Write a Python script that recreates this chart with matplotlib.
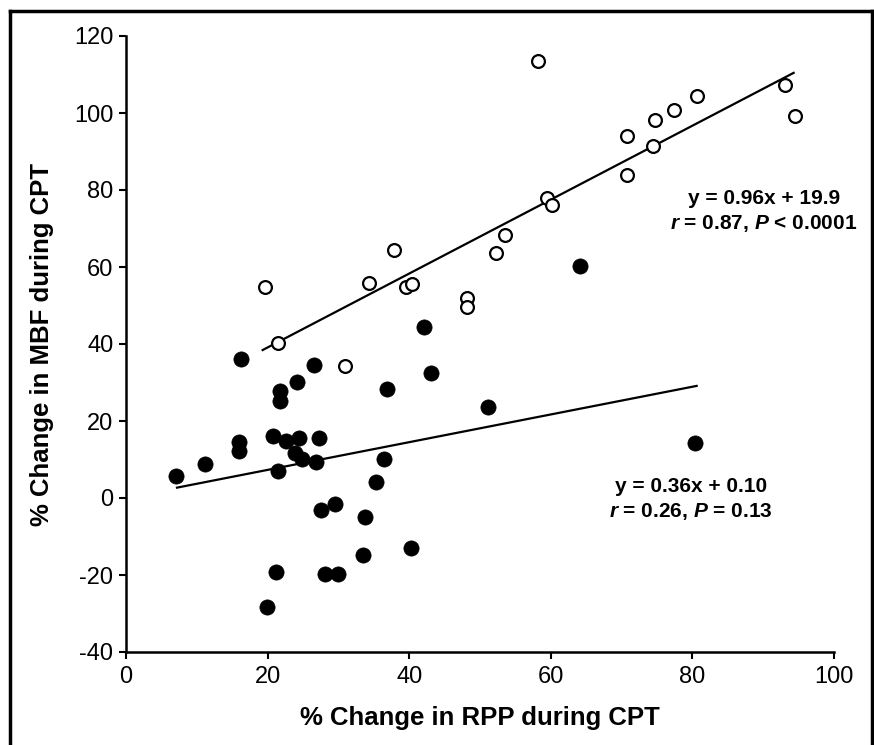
import matplotlib
matplotlib.use("Agg")
import matplotlib.pyplot as plt
from matplotlib.lines import Line2D

plt.rcParams['font.family'] = ['Liberation Sans', 'DejaVu Sans']
plt.rcParams['mathtext.fontset'] = 'custom'
plt.rcParams['mathtext.it'] = 'Liberation Sans:italic:bold'
plt.rcParams['mathtext.rm'] = 'Liberation Sans:bold'
plt.rcParams['mathtext.bf'] = 'Liberation Sans:bold'
plt.rcParams['axes.unicode_minus'] = False

# Open circles (upper group)
open_x = [19.7, 21.5, 30.9, 34.3, 37.9, 39.5, 40.4, 48.1, 48.2, 52.2, 53.5,
          58.2, 59.4, 60.1, 70.7, 70.7, 74.4, 74.7, 77.4, 80.7, 93.1, 94.5]
open_y = [54.8, 40.2, 34.3, 55.9, 64.3, 54.7, 55.7, 52.0, 49.6, 63.6, 68.4,
          113.4, 77.8, 76.1, 94.0, 83.8, 91.5, 98.2, 100.7, 104.4, 107.3, 99.1]

# Filled circles (lower group)
filled_x = [7.0, 11.2, 16.0, 16.0, 16.2, 19.9, 20.8, 21.2, 21.4, 21.8, 21.8,
            22.6, 23.8, 24.2, 24.4, 24.9, 26.5, 26.9, 27.2, 27.5, 28.1, 29.5,
            30.0, 33.5, 33.8, 35.3, 36.4, 36.9, 40.2, 42.1, 43.1, 51.2, 64.1, 80.3]
filled_y = [5.7, 8.9, 14.5, 12.2, 36.1, -28.2, 16.2, -19.3, 7.1, 27.7, 25.1,
            14.7, 11.8, 30.1, 15.7, 10.1, 34.6, 9.3, 15.7, -3.2, -19.8, -1.5,
            -19.8, -14.8, -4.9, 4.1, 10.1, 28.3, -13.0, 44.4, 32.4, 23.6, 60.3, 14.2]

# Regression fits (slope, intercept, x-range)
open_fit = (0.96, 19.9)
open_fit_range = [19.3, 94.3]
filled_fit = (0.36, 0.10)
filled_fit_range = [7.2, 80.6]

open_label = ["y = 0.96x + 19.9", r"$r$ = 0.87, $P$ < 0.0001"]
filled_label = ["y = 0.36x + 0.10", r"$r$ = 0.26, $P$ = 0.13"]

xticks = [0, 20, 40, 60, 80, 100]
yticks = [-40, -20, 0, 20, 40, 60, 80, 100, 120]

fig = plt.figure(figsize=(8.74, 7.45), dpi=100)
ax = fig.add_axes([126/874, 1 - 652/745, (834-126)/874, (652-36)/745])

ax.scatter(open_x, open_y, s=85, facecolors='white', edgecolors='black',
           linewidths=1.6, zorder=3)
ax.scatter(filled_x, filled_y, s=120, facecolors='black', edgecolors='black',
           linewidths=0.5, zorder=3)

for (m, b), rng in [(open_fit, open_fit_range), (filled_fit, filled_fit_range)]:
    xs = rng
    ys = [m * v + b for v in xs]
    ax.plot(xs, ys, color='black', lw=1.6, zorder=2)

ax.set_xlim(0, 100)
ax.set_ylim(-40, 120)
ax.set_xticks(xticks)
ax.set_yticks(yticks)
ax.tick_params(axis='both', direction='out', length=5, width=1.5,
               labelsize=17)
ax.tick_params(axis='x', pad=5)
ax.tick_params(axis='y', pad=4)
for s in ['top', 'right']:
    ax.spines[s].set_visible(False)
for s in ['left', 'bottom']:
    ax.spines[s].set_linewidth(1.8)

ax.set_xlabel("% Change in RPP during CPT", fontsize=18.5, fontweight='bold')
ax.set_ylabel("% Change in MBF during CPT", fontsize=18.5, fontweight='bold')
ax.xaxis.set_label_coords((480 - 126) / (834 - 126), -(718 - 652) / (652 - 36))
ax.yaxis.set_label_coords(-(126 - 42) / (834 - 126), (652 - 344) / (652 - 36))
ax.xaxis.label.set_va('center')
ax.yaxis.label.set_va('center')

def fig_text(xpx, ypx, s):
    fig.text(xpx / 874, 1 - ypx / 745, s, ha='center', va='center',
             fontsize=15, fontweight='bold')

fig_text(764, 198, open_label[0])
fig_text(764, 223, open_label[1])
fig_text(691, 487, filled_label[0])
fig_text(691, 512, filled_label[1])

# figure border (left, top, right)
lw = 2.5
fig.add_artist(Line2D([10/874, 10/874], [0, 1 - 11/745], color='black', lw=lw,
                      transform=fig.transFigure))
fig.add_artist(Line2D([10/874, 872/874], [1 - 11/745, 1 - 11/745], color='black',
                      lw=lw, transform=fig.transFigure))
fig.add_artist(Line2D([872/874, 872/874], [0, 1 - 11/745], color='black', lw=lw,
                      transform=fig.transFigure))

fig.savefig("out.png", dpi=100)
